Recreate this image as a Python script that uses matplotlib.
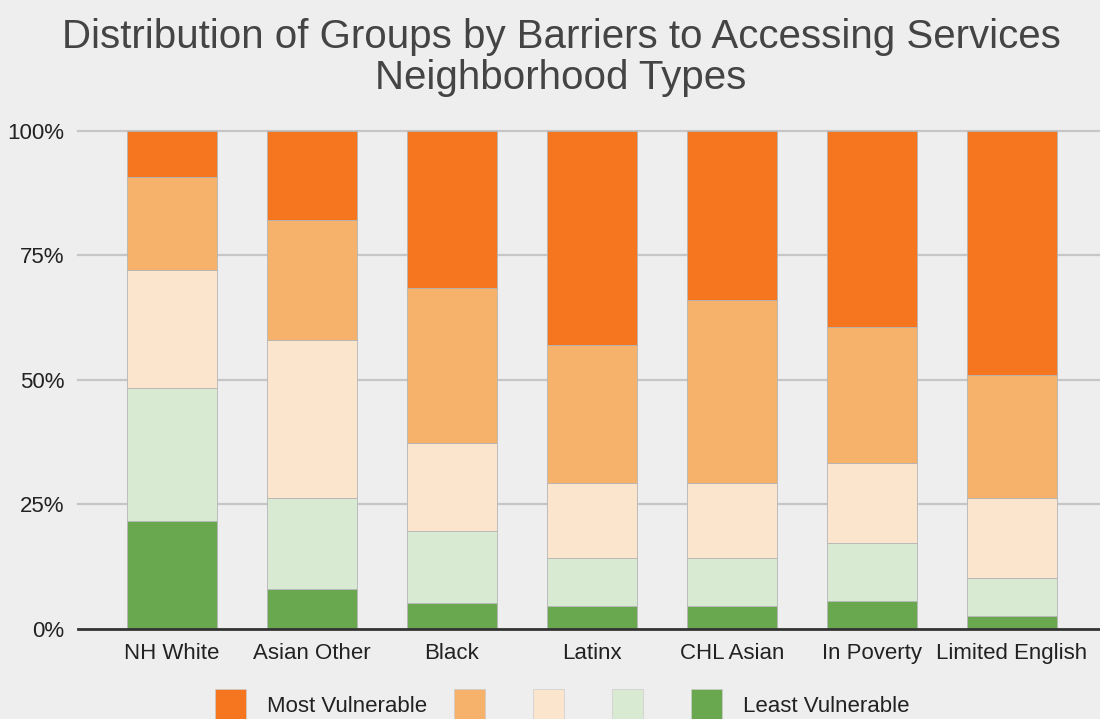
import matplotlib.pyplot as plt
from matplotlib.patches import Patch
import numpy as np

plt.rcParams['font.family'] = ['Liberation Sans', 'DejaVu Sans']

groups = ["NH White", "Asian Other", "Black", "Latinx", "CHL Asian", "In Poverty", "Limited English"]

# shares (%) per vulnerability level, bottom (least) to top (most)
least = [21.7, 8.0, 5.2, 4.6, 4.6, 5.6, 2.6]
level2 = [26.7, 18.3, 14.5, 9.7, 9.7, 11.7, 7.6]
level3 = [23.7, 31.7, 17.6, 15.0, 15.0, 16.0, 16.1]
level4 = [18.7, 24.1, 31.2, 27.7, 36.8, 27.3, 24.7]
most = [9.2, 17.9, 31.5, 43.0, 33.9, 39.4, 49.0]

series = [least, level2, level3, level4, most]
colors = ["#6aa84f", "#d9ead3", "#fce5cd", "#f6b26b", "#f5761e"]
legend_labels = ["Most Vulnerable", "", "", "", "Least Vulnerable"]

fig = plt.figure(figsize=(11, 7.19), dpi=100)
fig.patch.set_facecolor("#eeeeee")
ax = fig.add_axes([0.0709, 0.1252, 0.9291, 0.6926])
ax.set_facecolor("#eeeeee")

x = np.arange(len(groups))
bottom = np.zeros(len(groups))
for vals, c in zip(series, colors):
    v = np.array(vals) / 100.0
    ax.bar(x, v, bottom=bottom, width=0.643, color=c, edgecolor="#b5b5b5",
           linewidth=0.6, zorder=3)
    bottom += v

ax.set_xlim(-0.67, 6.63)
ax.set_ylim(0, 1.0)
ax.set_yticks([0, 0.25, 0.5, 0.75, 1.0])
ax.set_yticklabels(["0%", "25%", "50%", "75%", "100%"])
ax.set_xticks(x)
ax.set_xticklabels(groups)
ax.tick_params(axis="both", length=0, labelsize=16, labelcolor="#222222")
ax.tick_params(axis="y", pad=10)
ax.tick_params(axis="x", pad=10)
for s in ax.spines.values():
    s.set_visible(False)
for yv in [0.25, 0.5, 0.75, 1.0]:
    ax.axhline(yv, color="#c6c6c6", lw=1.6, zorder=1, clip_on=False)
ax.axhline(0, color="#333333", lw=2.0, zorder=4, clip_on=False)

fig.suptitle("Distribution of Groups by Barriers to Accessing Services\nNeighborhood Types",
             fontsize=29, color="#444444", y=0.975, x=0.51, linespacing=1.1)

handles = [Patch(facecolor=c, edgecolor="#cccccc", linewidth=0.5) for c in colors[::-1]]
fig.legend(handles, legend_labels, loc="center", bbox_to_anchor=(0.511, 0.02),
           ncol=5, frameon=False, fontsize=16, handlelength=1.4, handleheight=1.85,
           handletextpad=0.95, columnspacing=1.2, labelcolor="#222222")

fig.savefig("out.png", dpi=100, facecolor=fig.get_facecolor())
